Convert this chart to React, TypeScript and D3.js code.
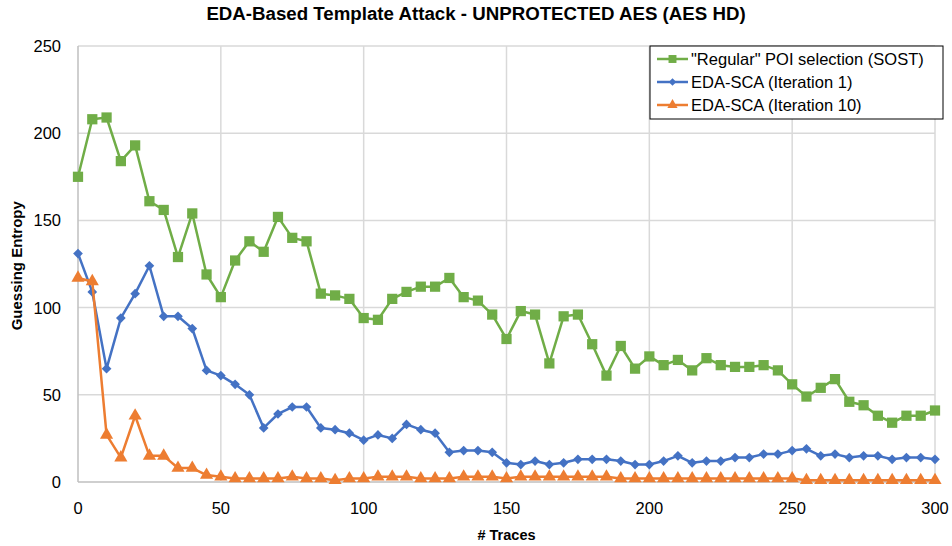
import { useEffect, useRef } from "react";
import * as d3 from "d3";

// x positions (traces), every 5 from 0 to 300
const traces = d3.range(0, 301, 5);

const regularSost = [
  175, 208, 209, 184, 193, 161, 156, 129, 154, 119, 106, 127, 138, 132, 152, 140,
  138, 108, 107, 105, 94, 93, 105, 109, 112, 112, 117, 106, 104, 96, 82, 98, 96,
  68, 95, 96, 79, 61, 78, 65, 72, 67, 70, 64, 71, 67, 66, 66, 67, 64, 56, 49, 54,
  59, 46, 44, 38, 34, 38, 38, 41,
];

const edaIter1 = [
  131, 109, 65, 94, 108, 124, 95, 95, 88, 64, 61, 56, 50, 31, 39, 43, 43, 31, 30,
  28, 24, 27, 25, 33, 30, 28, 17, 18, 18, 17, 11, 10, 12, 10, 11, 13, 13, 13, 12,
  10, 10, 12, 15, 11, 12, 12, 14, 14, 16, 16, 18, 19, 15, 16, 14, 15, 15, 13, 14,
  14, 13,
];

const edaIter10 = [
  117, 115, 27, 14, 38, 15, 15, 8, 8, 4, 3, 2, 2, 2, 2, 3, 2, 2, 1, 2, 2, 3, 3, 3,
  2, 2, 2, 3, 3, 3, 2, 3, 3, 3, 3, 3, 3, 3, 2, 2, 2, 2, 2, 2, 2, 2, 2, 2, 2, 2, 2,
  1, 1, 1, 1, 1, 1, 1, 1, 1, 1,
];

const xTicks = [0, 50, 100, 150, 200, 250, 300];
const yTicks = [0, 50, 100, 150, 200, 250];

const seriesNames = [
  '"Regular" POI selection (SOST)',
  "EDA-SCA (Iteration 1)",
  "EDA-SCA (Iteration 10)",
];

function App() {
  const ref = useRef<SVGSVGElement>(null);

  useEffect(() => {
    const width = 952;
    const height = 546;
    const margin = { top: 46, right: 17, bottom: 64, left: 78 };
    const font = "'Liberation Sans', Arial, sans-serif";

    const svg = d3.select(ref.current);
    svg.selectAll("*").remove();
    svg.attr("width", width).attr("height", height).style("font-family", font);

    const x = d3.scaleLinear([0, 300], [margin.left, width - margin.right]);
    const y = d3.scaleLinear([0, 250], [height - margin.bottom, margin.top]);

    svg.append("rect").attr("width", width).attr("height", height).attr("fill", "#fff");

    // gridlines
    const grid = svg.append("g");
    yTicks.forEach((t) => {
      grid
        .append("line")
        .attr("x1", x(0))
        .attr("x2", x(300))
        .attr("y1", y(t))
        .attr("y2", y(t))
        .attr("stroke", t === 0 ? "#BFBFBF" : "#D9D9D9")
        .attr("stroke-width", 1.5);
    });
    xTicks.forEach((t) => {
      grid
        .append("line")
        .attr("x1", x(t))
        .attr("x2", x(t))
        .attr("y1", y(0))
        .attr("y2", y(250))
        .attr("stroke", t === 0 ? "#BFBFBF" : "#D9D9D9")
        .attr("stroke-width", 1.5);
    });

    // tick labels
    svg
      .append("g")
      .selectAll("text")
      .data(yTicks)
      .join("text")
      .attr("x", 61)
      .attr("y", (d) => y(d) + 6)
      .attr("text-anchor", "end")
      .attr("font-size", 16.5)
      .attr("fill", "#000")
      .text((d) => d);

    svg
      .append("g")
      .selectAll("text")
      .data(xTicks)
      .join("text")
      .attr("x", (d) => x(d))
      .attr("y", 514)
      .attr("text-anchor", "middle")
      .attr("font-size", 16.5)
      .attr("fill", "#000")
      .text((d) => d);

    // titles
    svg
      .append("text")
      .attr("x", 476)
      .attr("y", 20)
      .attr("text-anchor", "middle")
      .attr("font-size", 18.7)
      .attr("font-weight", "bold")
      .text("EDA-Based Template Attack - UNPROTECTED AES (AES HD)");

    svg
      .append("text")
      .attr("x", x(150))
      .attr("y", 540)
      .attr("text-anchor", "middle")
      .attr("font-size", 14.5)
      .attr("font-weight", "bold")
      .text("# Traces");

    svg
      .append("text")
      .attr("transform", `translate(22,${y(124)}) rotate(-90)`)
      .attr("text-anchor", "middle")
      .attr("font-size", 15)
      .attr("font-weight", "bold")
      .text("Guessing Entropy");

    const series = [
      { values: regularSost, color: "#70AD47", marker: d3.symbolSquare, size: 105 },
      { values: edaIter1, color: "#4472C4", marker: d3.symbolDiamond2, size: 60 },
      { values: edaIter10, color: "#ED7D31", marker: d3.symbolTriangle, size: 75 },
    ];

    const line = d3
      .line<number>()
      .x((_, i) => x(traces[i]))
      .y((d) => y(d));

    series.forEach((s) => {
      const g = svg.append("g");
      g.append("path")
        .attr("d", line(s.values))
        .attr("fill", "none")
        .attr("stroke", s.color)
        .attr("stroke-width", 2.5)
        .attr("stroke-linejoin", "round");
      g.selectAll("path.m")
        .data(s.values)
        .join("path")
        .attr("class", "m")
        .attr("d", d3.symbol(s.marker, s.size)())
        .attr("transform", (d, i) => `translate(${x(traces[i])},${y(d)})`)
        .attr("fill", s.color);
    });

    // legend
    const lg = svg.append("g");
    lg.append("rect")
      .attr("x", 650)
      .attr("y", 46)
      .attr("width", 293)
      .attr("height", 73)
      .attr("fill", "#fff")
      .attr("stroke", "#000")
      .attr("stroke-width", 1);
    series.forEach((s, i) => {
      const ly = 59 + i * 23;
      lg.append("line")
        .attr("x1", 657)
        .attr("x2", 688)
        .attr("y1", ly)
        .attr("y2", ly)
        .attr("stroke", s.color)
        .attr("stroke-width", 2.5);
      lg.append("path")
        .attr("d", d3.symbol(s.marker, s.size * 0.6)())
        .attr("transform", `translate(672.5,${ly})`)
        .attr("fill", s.color);
      lg.append("text")
        .attr("x", 691)
        .attr("y", ly + 6)
        .attr("font-size", 16.5)
        .attr("fill", "#000")
        .text(seriesNames[i]);
    });
  }, []);

  return (
    <svg
      ref={ref}
      style={{ position: "absolute", left: 0, top: 0, display: "block" }}
    ></svg>
  );
}

export default App;
